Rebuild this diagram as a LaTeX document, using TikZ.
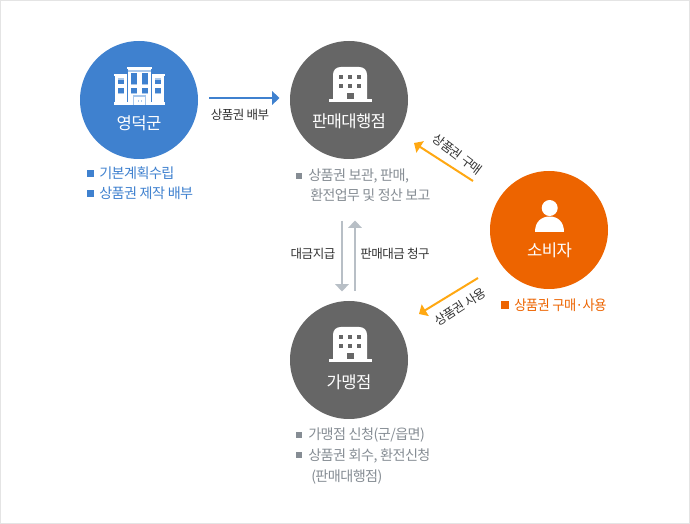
\documentclass[tikz,border=0pt]{standalone}
\usepackage{fontspec}
\setmainfont{Noto Sans CJK KR}
\newfontfamily\krtight[LetterSpace=-4]{Noto Sans CJK KR}
\usetikzlibrary{arrows.meta}
\definecolor{cblue}{HTML}{3F81CF}
\definecolor{cblueL}{HTML}{A9C8EC}
\definecolor{cgrey}{HTML}{666666}
\definecolor{corange}{HTML}{ED6400}
\definecolor{cyel}{HTML}{FFA812}
\definecolor{cgarrow}{HTML}{B8BFC6}
\definecolor{cgtext}{HTML}{868D94}
\definecolor{cline}{HTML}{E4E4E4}
\definecolor{cdark}{HTML}{333333}
\tikzset{
  x=0.75pt,y=-0.75pt,
  bubble/.style={circle,minimum size=88.5pt,inner sep=0pt,fill=#1},
  bubbletext/.style={inner sep=0pt,text=white,font=\krtight\fontsize{12.5}{14}\selectfont,anchor=base},
  item/.style={inner sep=0pt,text=#1,font=\krtight\fontsize{10.6}{12}\selectfont,anchor=base west},
  flowlabel/.style={inner sep=0pt,text=cdark,font=\krtight\fontsize{9.4}{11}\selectfont},
  flow/.style={draw=#1,line width=1.5pt,-{Triangle[length=5.5pt,width=10pt]}},
}
\newcommand{\shopicon}[2]{%
  \begin{scope}[shift={(#1,#2)}]
    \fill[white] (-17,32) -- (-17,8) .. controls (-17,3) and (-14,0) .. (-9,0) -- (9,0)
      .. controls (14,0) and (17,3) .. (17,8) -- (17,32) -- cycle;
    \fill[white] (-21.5,32) rectangle (21.5,35);
    \foreach \wx in {-9,0,9}\foreach \wy in {8.5,17.5}
      \fill[cgrey] (\wx-1.8,\wy) rectangle (\wx+1.8,\wy+3.6);
    \fill[cgrey] (-3.5,26) rectangle (3.5,32);
  \end{scope}}
\begin{document}
\begin{tikzpicture}
\useasboundingbox (0,0) rectangle (690,524);
\fill[white] (0,0) rectangle (690,524);
\draw[cline,line width=0.75pt] (0.5,0.5) rectangle (689.5,523.5);

\node[bubble=cblue] (gun) at (139,100) {};
\node[bubble=cgrey] (agency) at (349,100) {};
\node[bubble=corange] (consumer) at (549,230) {};
\node[bubble=cgrey] (store) at (349,360) {};

% county office icon
\fill[white] (115,76) rectangle (164,102);
\fill[white] (114,74) rectangle (127,76.3);
\fill[white] (152,74) rectangle (165,76.3);
\fill[cblue] (127,76) rectangle (128.3,102);
\fill[cblue] (151,76) rectangle (152,102);
\fill[white] (128.3,69) rectangle (151,102);
\fill[white] (127,67) rectangle (152,69.3);
\fill[cblueL] (128.3,69.6) rectangle (151,71.7);
\fill[white] (114,101.7) rectangle (165,105);
\foreach \wx in {131,142}{
  \fill[cblue] (\wx,73) rectangle (\wx+6,84);
  \fill[cblueL] (\wx,84) rectangle (\wx+6,85.3);
  \fill[cblue] (\wx,88) rectangle (\wx+6,93.3);
  \fill[cblueL] (\wx,93.3) rectangle (\wx+6,94.3);
}
\foreach \wx in {118,155}{
  \fill[cblueL] (\wx,78.5) rectangle (\wx+6,79.7);
  \fill[cblue] (\wx,79.7) rectangle (\wx+6,84);
  \fill[cblue] (\wx,88) rectangle (\wx+6,93.3);
  \fill[cblueL] (\wx,93.3) rectangle (\wx+6,94.3);
}
\fill[cblueL] (133.3,95) rectangle (145.7,105);
\fill[white] (134.3,97) rectangle (144.7,105);
\fill[cblueL] (138,100) rectangle (139,102.5);
\fill[cblueL] (140.5,100) rectangle (141.5,102.5);

\shopicon{350}{67}
\shopicon{350}{327}

% person icon
\fill[white] (549.7,208) circle[radius=8*0.75pt];
\fill[white] (535,232) .. controls (535,222) and (541,216.5) .. (549.7,216.5)
  .. controls (558,216.5) and (564,222) .. (564,232) -- cycle;

% circle titles
\node[bubbletext] (t1) at (139,130) {영덕군};
\node[bubbletext] (t2) at (349,128) {판매대행점};
\node[bubbletext] (t3) at (549.5,257) {소비자};
\node[bubbletext] (t4) at (349,388) {가맹점};

% connectors
\coordinate (a1) at (209,98); \coordinate (a2) at (279.5,98);
\draw[flow=cblue] (a1) -- (a2);
\coordinate (b1) at (342,221); \coordinate (b2) at (342,291.5);
\draw[flow=cgarrow] (b1) -- (b2);
\coordinate (c1) at (355,291); \coordinate (c2) at (355,220.5);
\draw[flow=cgarrow] (c1) -- (c2);
\coordinate (d1) at (473,181); \coordinate (d2) at (414,143);
\draw[flow=cyel] (d1) -- (d2);
\coordinate (e1) at (478,278); \coordinate (e2) at (419,314);
\draw[flow=cyel] (e1) -- (e2);

% connector labels
\node[flowlabel] (l1) at (240,115) {상품권 배부};
\node[flowlabel] (l2) at (313,254) {대금지급};
\node[flowlabel] (l3) at (395,254) {판매대금 청구};
\node[flowlabel,rotate=-37] (l4) at (457.5,154.5) {상품권 구매};
\node[flowlabel,rotate=33] (l5) at (460,307) {상품권 사용};

% bullet lists
\fill[cblue] (86.7,170) rectangle (94,177);
\fill[cblue] (86.7,190.5) rectangle (94,197.5);
\node[item=cblue] (g1) at (99,179) {기본계획수립};
\node[item=cblue] (g2) at (99,199) {상품권 제작 배부};

\fill[cgtext] (295.7,172.7) rectangle (302.3,179);
\node[item=cgtext] (h1) at (308,181) {상품권 보관, 판매,};
\node[item=cgtext,xscale=0.985] (h2) at (310,201) {환전업무 및 정산 보고};

\fill[cgtext] (295.7,431.7) rectangle (302.3,438);
\fill[cgtext] (295.7,451.7) rectangle (302.3,458);
\node[item=cgtext] (i1) at (308,440) {가맹점 신청(군/읍면)};
\node[item=cgtext] (i2) at (308,460) {상품권 회수, 환전신청};
\node[item=cgtext] (i3) at (311,481) {(판매대행점)};

\fill[corange] (501,301) rectangle (508.7,308.7);
\node[item=corange,xscale=0.94] (j1) at (514,311) {상품권 구매·사용};
\end{tikzpicture}
\end{document}
